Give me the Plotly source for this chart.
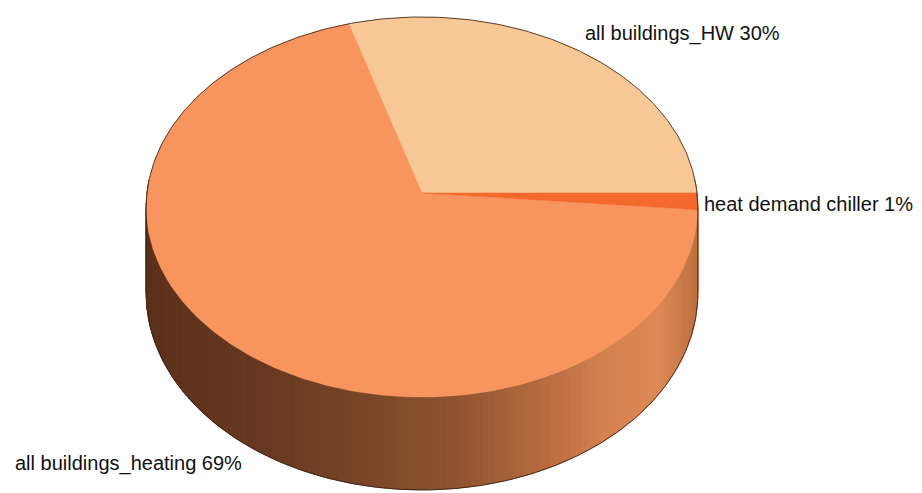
import math
import plotly.graph_objects as go

# ---- data ----
categories = ["all buildings_HW", "all buildings_heating", "heat demand chiller"]
values = [29.6, 69.0, 1.4]
top_colors = ["#F7C896", "#F8955F", "#F4692E"]
label_pos = [(583, 33), (13, 463), (702, 204)]  # text anchor positions (px)

# ---- projection geometry (pixels) ----
W, H = 922, 493
cx, cy = 422.0, 193.0
A, B = 275.0, 189.0
k = 0.0737
D = 86.0

def P(t, depth=0.0):
    u, v = math.cos(t), math.sin(t)
    w = 1 + k * v
    return cx + A * u / w, cy - B * v / w + depth * D / w

fig = go.Figure()

# ---- side (front half) with horizontal shading ----
stops = [(0.0, (92, 49, 27)), (0.22, (104, 57, 32)), (0.42, (124, 71, 40)),
         (0.58, (146, 86, 49)), (0.72, (182, 107, 63)), (0.84, (214, 130, 80)),
         (0.93, (222, 136, 86)), (1.0, (190, 112, 66))]

def shade(s):
    s = min(max(s, 0), 1)
    for (s0, c0), (s1, c1) in zip(stops, stops[1:]):
        if s0 <= s <= s1:
            f = (s - s0) / (s1 - s0) if s1 > s0 else 0
            return "rgb(%d,%d,%d)" % tuple(round(a + (b - a) * f) for a, b in zip(c0, c1))
    return "rgb(%d,%d,%d)" % stops[-1][1]

n = 160
t_start, t_end = math.radians(176), math.radians(364)
xmin, xmax = cx - A, cx + A
for i in range(n):
    t1 = t_start + (t_end - t_start) * i / n
    t2 = t_start + (t_end - t_start) * (i + 1) / n
    p1, p2 = P(t1), P(t2)
    b1, b2 = P(t1, 1), P(t2, 1)
    xm = (p1[0] + p2[0]) / 2
    c = shade((xm - xmin) / (xmax - xmin))
    fig.add_trace(go.Scatter(x=[p1[0], p2[0], b2[0], b1[0], p1[0]],
                             y=[p1[1], p2[1], b2[1], b1[1], p1[1]],
                             mode="lines", fill="toself", fillcolor=c,
                             line=dict(color=c, width=1),
                             hoverinfo="skip", showlegend=False))

# ---- top face slices ----
total = sum(values)
ang = 0.0
for name, val, col in zip(categories, values, top_colors):
    a0 = ang
    a1 = ang + 2 * math.pi * val / total
    m = max(4, int(400 * val / total))
    xs, ys = [cx], [cy]
    for j in range(m + 1):
        x, y = P(a0 + (a1 - a0) * j / m)
        xs.append(x); ys.append(y)
    xs.append(cx); ys.append(cy)
    fig.add_trace(go.Scatter(x=xs, y=ys, mode="lines", fill="toself", fillcolor=col,
                             line=dict(color=col, width=0.5), name=name,
                             hoverinfo="name", showlegend=False))
    ang = a1

# ---- silhouette outline ----
ol_x, ol_y = [], []
tl, tr = math.radians(184), math.radians(356)
m = 200
for j in range(m + 1):
    t = tr - 2 * math.pi + (tl - (tr - 2 * math.pi)) * j / m
    x, y = P(t); ol_x.append(x); ol_y.append(y)
for j in range(m + 1):
    t = tl + (tr - tl) * j / m
    x, y = P(t, 1); ol_x.append(x); ol_y.append(y)
ol_x.append(ol_x[0]); ol_y.append(ol_y[0])
fig.add_trace(go.Scatter(x=ol_x, y=ol_y, mode="lines",
                         line=dict(color="rgba(60,35,22,0.85)", width=1),
                         hoverinfo="skip", showlegend=False))

# ---- labels ----
for name, val, (lx, ly) in zip(categories, values, label_pos):
    fig.add_annotation(x=lx, y=ly, text=f"{name} {round(100 * val / total)}%",
                       showarrow=False, xanchor="left", yanchor="middle",
                       font=dict(family="Liberation Sans, Arial, sans-serif", size=20, color="#111"))

fig.update_layout(width=W, height=H, margin=dict(l=0, r=0, t=0, b=0),
                  paper_bgcolor="white", plot_bgcolor="white",
                  xaxis=dict(range=[0, W], visible=False, fixedrange=True),
                  yaxis=dict(range=[H, 0], visible=False, fixedrange=True),
                  showlegend=False)

fig.write_html("out.html")
